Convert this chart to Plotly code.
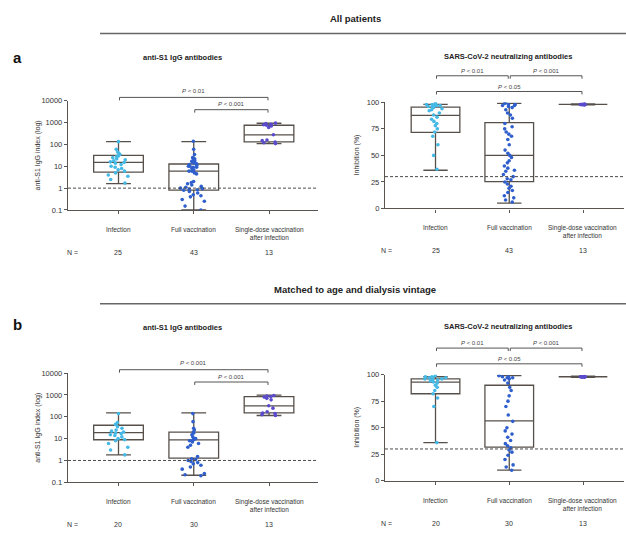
import plotly.graph_objects as go

W, H = 626, 533
FONT = "Arial, Liberation Sans, sans-serif"

# ---------------- data ----------------
categories = ["Infection", "Full vaccination", "Single-dose vaccination<br>after infection"]
n_all = [25, 43, 13]
n_matched = [20, 30, 13]

igg_ticks = [0.1, 1, 10, 100, 1000, 10000]
igg_ticktext = ["0.1", "1", "10", "100", "1000", "10000"]
neu_ticks = [0, 25, 50, 75, 100]
neu_ticktext = ["0", "25", "50", "75", "100"]

igg_cutoff = 1
neu_cutoff = 30

# --- (a) all patients: anti-S1 IgG index ---
igg_a_inf = [135, 60, 45, 40, 35, 30, 28, 25, 22, 20, 18, 16, 15, 14, 12, 10, 9, 8, 7, 6, 5, 4, 3.5, 2.5, 1.7]
igg_a_full = [140, 60, 35, 25, 22, 20, 18, 17, 15, 14, 13, 12, 11, 10, 10, 9, 9, 8, 7, 6, 6, 5, 4.5,
              2, 1.8, 1.6, 1.4, 1.2, 1.1, 1.0, 0.95, 0.9, 0.85, 0.8, 0.7, 0.6, 0.5, 0.45, 0.4, 0.3, 0.25, 0.15, 0.1]
igg_a_single = [950, 900, 850, 800, 760, 700, 600, 280, 160, 150, 130, 120, 110]
igg_a_low = [1.6, 0.1, 110]
igg_a_q1 = [5.4, 0.81, 133]
igg_a_med = [15.3, 6.0, 274]
igg_a_q3 = [31.6, 12.8, 760]
igg_a_high = [135, 135, 940]

# --- (a) all patients: neutralizing antibodies (% inhibition) ---
neu_a_inf = [99, 98, 98, 97, 97, 97, 96, 96, 95, 94, 93, 92, 90, 88, 86, 84, 82, 80, 78, 75, 72, 68, 60, 50, 37]
neu_a_full = [99, 98, 98, 97, 97, 96, 95, 93, 90, 88, 85, 80, 77, 75, 72, 70, 68, 65, 60, 55, 52, 50, 48,
              45, 43, 40, 38, 36, 35, 32, 30, 28, 27, 25, 23, 21, 19, 17, 15, 12, 10, 8, 6]
neu_a_single = [98, 98, 98, 98, 98, 98, 98, 98, 98, 98, 97.5, 98, 98.5]
neu_a_low = [36, 5, 97.5]
neu_a_q1 = [71.6, 25.3, 98]
neu_a_med = [87.7, 50, 98]
neu_a_q3 = [95.4, 80.8, 98]
neu_a_high = [98, 99, 98.5]

# --- (b) matched: anti-S1 IgG index ---
igg_b_inf = [140, 55, 45, 35, 30, 25, 22, 20, 18, 17, 15, 14, 12, 10, 9, 8, 6, 4, 3, 1.8]
igg_b_full = [140, 60, 30, 25, 20, 18, 15, 12, 10, 10, 9, 8, 8, 7, 6, 5, 4, 1.5, 1.2, 1.1,
              1.0, 0.9, 0.8, 0.7, 0.6, 0.5, 0.4, 0.25, 0.22, 0.2]
igg_b_single = [950, 900, 850, 800, 700, 600, 320, 250, 170, 150, 140, 125, 115]
igg_b_low = [1.8, 0.21, 115]
igg_b_q1 = [8.9, 1.28, 150]
igg_b_med = [19, 8.7, 320]
igg_b_q3 = [41, 20, 850]
igg_b_high = [150, 150, 980]

# --- (b) matched: neutralizing antibodies (% inhibition) ---
neu_b_inf = [99, 98, 98, 97, 97, 97, 96, 96, 95, 95, 94, 93, 92, 90, 88, 85, 82, 78, 70, 36]
neu_b_full = [99, 98, 98, 97, 97, 96, 95, 92, 88, 85, 80, 75, 70, 62, 56, 50, 47, 44, 41, 38,
              35, 33, 31, 29, 27, 24, 20, 15, 13, 10]
neu_b_single = [98, 98, 98, 98, 98, 98, 98, 98, 98, 98, 97.5, 98, 98.5]
neu_b_low = [36, 10, 97.5]
neu_b_q1 = [82, 31.8, 98]
neu_b_med = [93, 56.5, 98]
neu_b_q3 = [96, 90, 98]
neu_b_high = [98, 99, 98.5]

p_igg_a = ["<i>P</i> < 0.01", "<i>P</i> < 0.001"]
p_neu_a = ["<i>P</i> < 0.01", "<i>P</i> < 0.001", "<i>P</i> < 0.05"]
p_igg_b = ["<i>P</i> < 0.001", "<i>P</i> < 0.001"]
p_neu_b = ["<i>P</i> < 0.01", "<i>P</i> < 0.001", "<i>P</i> < 0.05"]

# ---------------- styles / geometry ----------------
C_INF = "#45b9e6"
C_FULL = "#2f5fcc"
C_SINGLE = "#5a4bcc"
C_BOX = "#57504a"
C_AX = "#5a5550"
C_TXT = "#333333"

panels = {
    "a_igg": dict(k="", x0=68, x1=318, top=98.5, bot=209.5, xr=(-0.671, 2.651), log=True),
    "a_neu": dict(k="2", x0=385, x1=624, top=100, bot=208, xr=(-0.685, 2.556), log=False),
    "b_igg": dict(k="3", x0=68, x1=318, top=375.5, bot=486.5, xr=(-0.671, 2.651), log=True),
    "b_neu": dict(k="4", x0=385, x1=624, top=377, bot=485, xr=(-0.685, 2.556), log=False),
}


def px(x):
    return x / W


def py(y):
    return 1 - y / H


def cat_px(p, i):
    g = panels[p]
    return g["x0"] + (i - g["xr"][0]) / (g["xr"][1] - g["xr"][0]) * (g["x1"] - g["x0"])


fig = go.Figure()
shapes = []
annotations = []


def ann(x, y, text, size, bold=False, color=C_TXT, xanchor="center", yanchor="middle", angle=0):
    annotations.append(dict(
        x=px(x), y=py(y), xref="paper", yref="paper", text=("<b>%s</b>" % text) if bold else text,
        showarrow=False, font=dict(family=FONT, size=size, color=color),
        xanchor=xanchor, yanchor=yanchor, textangle=angle, align="center",
    ))


def add_panel(p, groups, low, q1, med, q3, high, cutoff, jit):
    g = panels[p]
    k = g["k"]
    xa, ya = "x" + k, "y" + k
    fig.add_trace(go.Box(
        x=[0, 1, 2], q1=q1, median=med, q3=q3, lowerfence=low, upperfence=high,
        boxpoints=False, width=0.66, whiskerwidth=0.5, fillcolor="rgba(0,0,0,0)",
        line=dict(color=C_BOX, width=1.3), xaxis=xa, yaxis=ya, showlegend=False, hoverinfo="skip",
    ))
    fig.add_trace(go.Scatter(
        x=list(g["xr"]), y=[cutoff, cutoff], mode="lines", xaxis=xa, yaxis=ya,
        line=dict(color="#4a4a4a", width=1, dash="3px,2px"), showlegend=False, hoverinfo="skip",
    ))
    for i, (vals, col) in enumerate(groups):
        fig.add_trace(go.Box(
            x=[i] * len(vals), y=vals, boxpoints="all", jitter=jit[i], pointpos=0, width=0.66,
            fillcolor="rgba(0,0,0,0)", line=dict(width=0, color="rgba(0,0,0,0)"), whiskerwidth=0,
            marker=dict(color=col, size=3.6), xaxis=xa, yaxis=ya, showlegend=False, hoverinfo="skip",
        ))


add_panel("a_igg", [(igg_a_inf, C_INF), (igg_a_full, C_FULL), (igg_a_single, C_SINGLE)],
          igg_a_low, igg_a_q1, igg_a_med, igg_a_q3, igg_a_high, igg_cutoff, [0.5, 0.55, 0.5])
add_panel("a_neu", [(neu_a_inf, C_INF), (neu_a_full, C_FULL), (neu_a_single, C_SINGLE)],
          neu_a_low, neu_a_q1, neu_a_med, neu_a_q3, neu_a_high, neu_cutoff, [0.5, 0.45, 1.0])
add_panel("b_igg", [(igg_b_inf, C_INF), (igg_b_full, C_FULL), (igg_b_single, C_SINGLE)],
          igg_b_low, igg_b_q1, igg_b_med, igg_b_q3, igg_b_high, igg_cutoff, [0.5, 0.55, 0.5])
add_panel("b_neu", [(neu_b_inf, C_INF), (neu_b_full, C_FULL), (neu_b_single, C_SINGLE)],
          neu_b_low, neu_b_q1, neu_b_med, neu_b_q3, neu_b_high, neu_cutoff, [0.5, 0.45, 1.0])

layout_axes = {}
for p, g in panels.items():
    k = g["k"]
    layout_axes["xaxis" + k] = dict(
        domain=[px(g["x0"]), px(g["x1"])], range=list(g["xr"]), anchor="y" + k,
        tickvals=[0, 1, 2], showticklabels=False, ticks="outside", ticklen=3, tickcolor=C_AX,
        showline=True, linecolor=C_AX, linewidth=1.4, showgrid=False, zeroline=False, fixedrange=True,
    )
    ydict = dict(
        domain=[py(g["bot"]), py(g["top"])], anchor="x" + k,
        ticks="outside", ticklen=3, tickcolor=C_AX, showline=True, linecolor=C_AX, linewidth=1.4,
        showgrid=False, zeroline=False, tickfont=dict(family=FONT, size=7.5, color=C_TXT),
    )
    if g["log"]:
        ydict.update(type="log", range=[-1, 4], tickvals=igg_ticks, ticktext=igg_ticktext)
    else:
        ydict.update(range=[0, 100], tickvals=neu_ticks, ticktext=neu_ticktext)
    layout_axes["yaxis" + k] = ydict

# ---- headers, titles ----
for dy, head in [(0, "All patients"), (275, "Matched to age and dialysis vintage")]:
    ann(355, 15 + dy, head, 9.5, bold=True, color="#222")
    shapes.append(dict(type="line", xref="paper", yref="paper", x0=px(100), x1=px(626),
                       y0=py(30 + dy), y1=py(30 + dy), line=dict(color="#666", width=1.5)))
ann(17, 54, "a", 15, bold=True, color="#111")
ann(17, 326, "b", 15, bold=True, color="#111")

for dy in [0, 275]:
    ann(182, 54 + dy, "anti-S1 IgG antibodies", 7.5, bold=True, color="#222")
    ann(508, 53 + dy, "SARS-CoV-2 neutralizing antibodies", 7.5, bold=True, color="#222")

# ---- y-axis titles, category labels, N rows ----
for p, ns in [("a_igg", n_all), ("a_neu", n_all), ("b_igg", n_matched), ("b_neu", n_matched)]:
    g = panels[p]
    mid = (g["top"] + g["bot"]) / 2
    if g["log"]:
        ann(38, mid, "anti-S1 IgG index (log)", 7, angle=-90)
        nx = 72
    else:
        ann(357, mid, "Inhibition (%)", 7, angle=-90)
        nx = 386
    base = g["bot"]
    for i, c in enumerate(categories):
        ann(cat_px(p, i), base + 14, c, 6.5, yanchor="top")
    ann(nx, base + 43, "N =", 7)
    for i, n in enumerate(ns):
        ann(cat_px(p, i), base + 43, str(n), 7)


# ---- significance brackets ----
def bracket(p, i0, i1, ybr, text, ylab):
    xa0 = cat_px(p, i0) + 1
    xa1 = cat_px(p, i1) - 1
    path = "M %f %f L %f %f L %f %f L %f %f" % (
        px(xa0), py(ybr + 3), px(xa0), py(ybr), px(xa1), py(ybr), px(xa1), py(ybr + 3))
    shapes.append(dict(type="path", path=path, xref="paper", yref="paper",
                       line=dict(color="#555", width=1)))
    ann((xa0 + xa1) / 2, ylab, text, 6, color="#444")


for dy, p, labs in [(0, "a_igg", p_igg_a), (277, "b_igg", p_igg_b)]:
    bracket(p, 0, 2, 95 + dy, labs[0], 88.5 + dy)
    bracket(p, 1, 2, 107.5 + dy, labs[1], 102 + dy)

for dy, p, labs in [(0, "a_neu", p_neu_a), (277, "b_neu", p_neu_b)]:
    bracket(p, 0, 1, 73 + dy, labs[0], 68 + dy)
    bracket(p, 1, 2, 73 + dy, labs[1], 68 + dy)
    bracket(p, 0, 2, 89 + dy, labs[2], 84.5 + dy)

fig.update_layout(
    width=W, height=H, margin=dict(l=0, r=0, t=0, b=0),
    paper_bgcolor="white", plot_bgcolor="white", showlegend=False,
    boxmode="overlay", shapes=shapes, annotations=annotations,
    font=dict(family=FONT, color=C_TXT),
    **layout_axes,
)

fig.write_html(
    "out.html",
    config={"displayModeBar": False},
    post_script="document.body.style.margin='0';document.body.style.overflow='hidden';",
)
